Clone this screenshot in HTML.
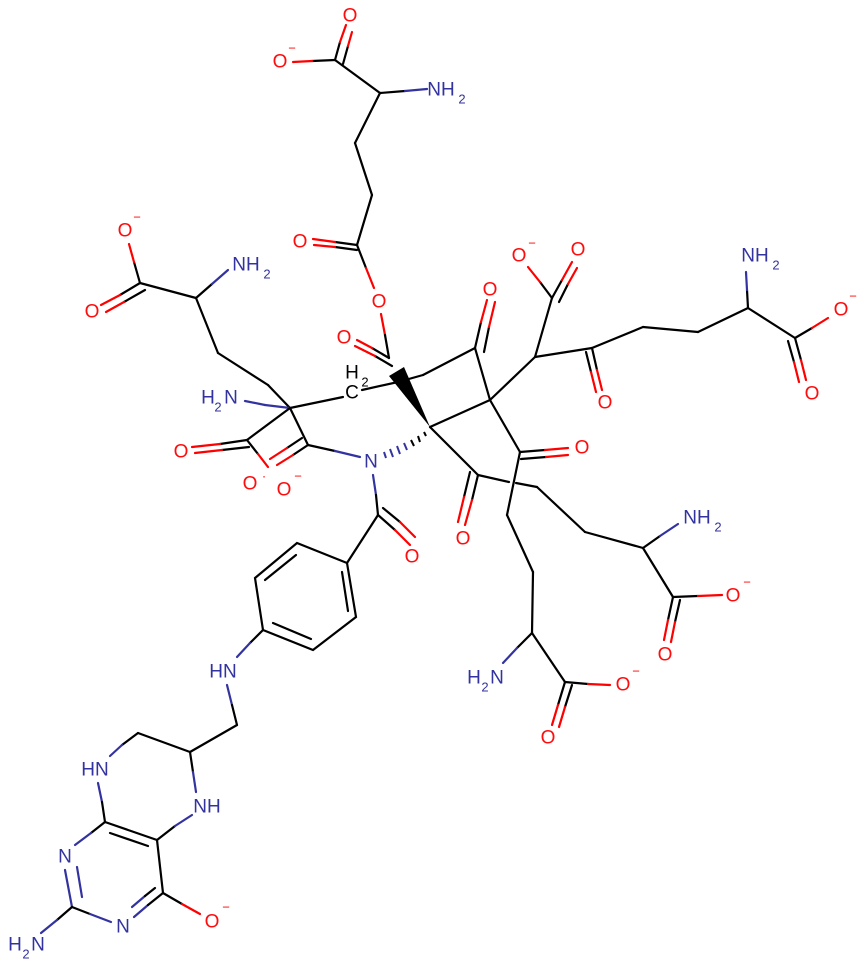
<!DOCTYPE html>
<html><head><meta charset="utf-8"><style>
html,body{margin:0;padding:0;background:#fff;}
svg{display:block;}
text{font-family:"Liberation Sans",sans-serif;font-size:19px;text-anchor:middle;dominant-baseline:central;}
.o{fill:#ff0d0d;} .n{fill:#3333a0;} .c{fill:#000;}
.s{font-size:13px;}
</style></head><body>
<svg width="857" height="959" viewBox="0 0 857 959" xmlns="http://www.w3.org/2000/svg">
<g stroke="#000" stroke-width="2.2" fill="none" stroke-linecap="round">
<line x1="335" y1="60" x2="380" y2="93"/>
<line x1="335" y1="60" x2="312" y2="61"/><line x1="312" y1="61" x2="293" y2="62" stroke="#f00"/>
<line x1="335" y1="60" x2="340" y2="42"/><line x1="340" y1="42" x2="346" y2="25" stroke="#f00"/>
<line x1="343" y1="64" x2="348" y2="46"/><line x1="348" y1="46" x2="352" y2="32" stroke="#f00"/>
<line x1="380" y1="93" x2="405" y2="91"/><line x1="405" y1="91" x2="427" y2="89" stroke="#3333a0"/>
<line x1="380" y1="93" x2="355" y2="143"/><line x1="355" y1="143" x2="372" y2="195"/><line x1="372" y1="195" x2="357" y2="245"/>
<line x1="357" y1="245" x2="335" y2="242"/><line x1="335" y1="242" x2="313" y2="239" stroke="#f00"/>
<line x1="357" y1="250" x2="335" y2="247"/><line x1="335" y1="247" x2="314" y2="245" stroke="#f00"/>
<line x1="357" y1="245" x2="366" y2="268"/><line x1="366" y1="268" x2="374" y2="288" stroke="#f00"/>
<line x1="381" y1="314" x2="385" y2="335" stroke="#f00"/><line x1="385" y1="335" x2="389" y2="358"/>
<line x1="389" y1="358" x2="372" y2="348"/><line x1="372" y1="348" x2="357" y2="340" stroke="#f00"/>
<line x1="392" y1="366" x2="375" y2="356"/><line x1="375" y1="356" x2="355" y2="346" stroke="#f00"/>
<line x1="398" y1="382" x2="423" y2="375"/><line x1="423" y1="375" x2="475" y2="348"/>
<line x1="475" y1="348" x2="490" y2="400"/><line x1="490" y1="400" x2="430" y2="427"/>
<line x1="475" y1="348" x2="481" y2="322"/><line x1="481" y1="322" x2="487" y2="300" stroke="#f00"/>
<line x1="484" y1="352" x2="489" y2="327"/><line x1="489" y1="327" x2="495" y2="302" stroke="#f00"/>
<line x1="398" y1="382" x2="362" y2="390"/>
<line x1="343" y1="397" x2="290" y2="408"/>
<line x1="290" y1="408" x2="268" y2="385"/><line x1="268" y1="385" x2="218" y2="353"/><line x1="218" y1="353" x2="196" y2="298"/>
<line x1="196" y1="298" x2="140" y2="283"/>
<line x1="196" y1="298" x2="212" y2="284"/><line x1="212" y1="284" x2="228" y2="270" stroke="#3333a0"/>
<line x1="140" y1="283" x2="134" y2="262"/><line x1="134" y1="262" x2="129" y2="244" stroke="#f00"/>
<line x1="140" y1="283" x2="120" y2="295"/><line x1="120" y1="295" x2="101" y2="305" stroke="#f00"/>
<line x1="145" y1="290" x2="124" y2="302"/><line x1="124" y1="302" x2="106" y2="312" stroke="#f00"/>
<line x1="290" y1="408" x2="265" y2="405" stroke="#3333a0"/><line x1="265" y1="405" x2="245" y2="401" stroke="#3333a0"/>
<line x1="290" y1="408" x2="247" y2="440"/>
<line x1="247" y1="440" x2="220" y2="444"/><line x1="220" y1="444" x2="192" y2="447" stroke="#f00"/>
<line x1="249" y1="447" x2="222" y2="450"/><line x1="222" y1="450" x2="195" y2="453" stroke="#f00"/>
<line x1="247" y1="440" x2="258" y2="454"/><line x1="258" y1="454" x2="268" y2="467" stroke="#f00"/>
<line x1="290" y1="408" x2="308" y2="445"/>
<line x1="308" y1="445" x2="293" y2="455"/><line x1="293" y1="455" x2="277" y2="465" stroke="#f00"/>
<line x1="302" y1="438" x2="287" y2="448"/><line x1="287" y1="448" x2="270" y2="459" stroke="#f00"/>
<line x1="308" y1="445" x2="335" y2="451"/><line x1="335" y1="451" x2="360" y2="457" stroke="#3333a0"/>
<line x1="373" y1="475" x2="376" y2="495" stroke="#3333a0"/><line x1="376" y1="495" x2="378" y2="515"/>
<line x1="378" y1="515" x2="395" y2="530"/><line x1="395" y1="530" x2="410" y2="545" stroke="#f00"/>
<line x1="383" y1="508" x2="400" y2="522"/><line x1="400" y1="522" x2="415" y2="537" stroke="#f00"/>
<line x1="378" y1="515" x2="347" y2="563"/>
<polygon points="347,563 297,543 255,578 263,630 313,650 356,617" />
<line x1="296" y1="555" x2="265" y2="580"/><line x1="342" y1="572" x2="348" y2="611"/><line x1="273" y1="623" x2="311" y2="639"/>
<line x1="263" y1="630" x2="250" y2="643"/><line x1="250" y1="643" x2="237" y2="657" stroke="#3333a0"/>
<line x1="227" y1="685" x2="232" y2="705" stroke="#3333a0"/><line x1="232" y1="705" x2="237" y2="725"/>
<line x1="237" y1="725" x2="190" y2="752"/><line x1="190" y1="752" x2="138" y2="733"/>
<line x1="138" y1="733" x2="122" y2="745"/><line x1="122" y1="745" x2="110" y2="756" stroke="#3333a0"/>
<line x1="98" y1="783" x2="102" y2="802" stroke="#3333a0"/><line x1="102" y1="802" x2="105" y2="822"/>
<line x1="190" y1="752" x2="193" y2="772"/><line x1="193" y1="772" x2="196" y2="792" stroke="#3333a0"/>
<line x1="105" y1="822" x2="157" y2="840"/><line x1="110" y1="833" x2="148" y2="846"/>
<line x1="157" y1="840" x2="175" y2="826"/><line x1="175" y1="826" x2="192" y2="815" stroke="#3333a0"/>
<line x1="105" y1="822" x2="91" y2="833"/><line x1="91" y1="833" x2="75" y2="845" stroke="#3333a0"/>
<line x1="65" y1="870" x2="72" y2="907" stroke="#3333a0"/><line x1="77" y1="867" x2="82" y2="897" stroke="#3333a0"/>
<line x1="72" y1="907" x2="90" y2="914"/><line x1="90" y1="914" x2="111" y2="922" stroke="#3333a0"/>
<line x1="72" y1="907" x2="57" y2="920"/><line x1="57" y1="920" x2="41" y2="933" stroke="#3333a0"/>
<line x1="134" y1="917" x2="148" y2="905" stroke="#3333a0"/><line x1="148" y1="905" x2="163" y2="893"/>
<line x1="132" y1="907" x2="145" y2="896" stroke="#3333a0"/><line x1="145" y1="896" x2="155" y2="888"/>
<line x1="163" y1="893" x2="157" y2="840"/>
<line x1="163" y1="893" x2="182" y2="904"/><line x1="182" y1="904" x2="200" y2="914" stroke="#f00"/>
<line x1="430" y1="427" x2="478" y2="475"/>
<line x1="478" y1="475" x2="472" y2="500"/><line x1="472" y1="500" x2="465" y2="525" stroke="#f00"/>
<line x1="470" y1="472" x2="464" y2="497"/><line x1="464" y1="497" x2="458" y2="522" stroke="#f00"/>
<line x1="478" y1="475" x2="509" y2="482"/><line x1="516" y1="483" x2="537" y2="487"/>
<line x1="537" y1="487" x2="585" y2="532"/><line x1="585" y1="532" x2="643" y2="548"/>
<line x1="643" y1="548" x2="660" y2="536"/><line x1="660" y1="536" x2="678" y2="524" stroke="#3333a0"/>
<line x1="643" y1="548" x2="673" y2="597"/>
<line x1="673" y1="597" x2="698" y2="596"/><line x1="698" y1="596" x2="722" y2="595" stroke="#f00"/>
<line x1="673" y1="597" x2="668" y2="620"/><line x1="668" y1="620" x2="664" y2="640" stroke="#f00"/>
<line x1="680" y1="600" x2="675" y2="622"/><line x1="675" y1="622" x2="671" y2="642" stroke="#f00"/>
<line x1="490" y1="400" x2="520" y2="452"/>
<line x1="520" y1="452" x2="545" y2="450"/><line x1="545" y1="450" x2="568" y2="448" stroke="#f00"/>
<line x1="521" y1="459" x2="546" y2="457"/><line x1="546" y1="457" x2="568" y2="455" stroke="#f00"/>
<line x1="520" y1="452" x2="507" y2="515"/><line x1="507" y1="515" x2="533" y2="572"/><line x1="533" y1="572" x2="532" y2="633"/>
<line x1="532" y1="633" x2="517" y2="648"/><line x1="517" y1="648" x2="503" y2="663" stroke="#3333a0"/>
<line x1="532" y1="633" x2="565" y2="682"/>
<line x1="565" y1="682" x2="588" y2="684"/><line x1="588" y1="684" x2="610" y2="685" stroke="#f00"/>
<line x1="565" y1="682" x2="558" y2="705"/><line x1="558" y1="705" x2="552" y2="725" stroke="#f00"/>
<line x1="572" y1="685" x2="565" y2="707"/><line x1="565" y1="707" x2="559" y2="727" stroke="#f00"/>
<line x1="490" y1="400" x2="535" y2="357"/>
<line x1="535" y1="357" x2="552" y2="298"/>
<line x1="552" y1="298" x2="540" y2="282"/><line x1="540" y1="282" x2="528" y2="267" stroke="#f00"/>
<line x1="552" y1="298" x2="562" y2="280"/><line x1="562" y1="280" x2="572" y2="262" stroke="#f00"/>
<line x1="559" y1="302" x2="568" y2="284"/><line x1="568" y1="284" x2="577" y2="268" stroke="#f00"/>
<line x1="535" y1="357" x2="592" y2="348"/>
<line x1="592" y1="348" x2="597" y2="370"/><line x1="597" y1="370" x2="602" y2="390" stroke="#f00"/>
<line x1="586" y1="352" x2="591" y2="372"/><line x1="591" y1="372" x2="596" y2="392" stroke="#f00"/>
<line x1="592" y1="348" x2="643" y2="327"/><line x1="643" y1="327" x2="698" y2="332"/><line x1="698" y1="332" x2="748" y2="308"/>
<line x1="748" y1="308" x2="747" y2="290"/><line x1="747" y1="290" x2="746" y2="272" stroke="#3333a0"/>
<line x1="748" y1="308" x2="795" y2="338"/>
<line x1="795" y1="338" x2="812" y2="328"/><line x1="812" y1="328" x2="828" y2="318" stroke="#f00"/>
<line x1="795" y1="338" x2="801" y2="360"/><line x1="801" y1="360" x2="806" y2="380" stroke="#f00"/>
<line x1="788" y1="341" x2="794" y2="362"/><line x1="794" y1="362" x2="799" y2="382" stroke="#f00"/>
</g>
<polygon points="430,427 389,376 404,367" fill="#000"/>
<g stroke-width="2">
<line x1="384" y1="452" x2="386" y2="458" stroke="#3333a0"/>
<line x1="390" y1="449" x2="393" y2="457" stroke="#3333a0"/>
<line x1="397" y1="446" x2="400" y2="454" stroke="#3333a0"/>
<line x1="404" y1="443" x2="407" y2="450" stroke="#3333a0"/>
<line x1="411" y1="440" x2="414" y2="446" stroke="#000"/>
<line x1="418" y1="436" x2="420" y2="442" stroke="#000"/>
<line x1="424" y1="432" x2="426" y2="436" stroke="#000"/>
</g>
<text x="280" y="62" class="o">O</text><text x="292" y="48" class="o s">−</text>
<text x="350" y="16" class="o">O</text>
<text x="441" y="90" class="n">NH</text><text x="462" y="99" class="n s">2</text>
<text x="300" y="242" class="o">O</text>
<text x="379" y="302" class="o">O</text>
<text x="344" y="338" class="o">O</text>
<text x="490" y="290" class="o">O</text>
<text x="352" y="393" class="c">C</text><text x="352" y="373" class="c">H</text><text x="365" y="382" class="c s">2</text>
<text x="125" y="231" class="o">O</text><text x="137" y="217" class="o s">−</text>
<text x="92" y="312" class="o">O</text>
<text x="246" y="265" class="n">NH</text><text x="267" y="274" class="n s">2</text>
<text x="208" y="398" class="n">H</text><text x="218" y="407" class="n s">2</text><text x="231" y="398" class="n">N</text>
<text x="181" y="452" class="o">O</text>
<text x="250" y="484" class="o">O</text><text x="264" y="476" class="o s">·</text>
<text x="284" y="490" class="o">O</text><text x="298" y="476" class="o s">−</text>
<text x="371" y="462" class="n">N</text>
<text x="412" y="557" class="o">O</text>
<text x="223" y="672" class="n">HN</text>
<text x="95" y="770" class="n">HN</text>
<text x="207" y="807" class="n">NH</text>
<text x="65" y="857" class="n">N</text>
<text x="123" y="927" class="n">N</text>
<text x="212" y="922" class="o">O</text><text x="226" y="907" class="o s">−</text>
<text x="15" y="945" class="n">H</text><text x="26" y="954" class="n s">2</text><text x="38" y="945" class="n">N</text>
<text x="519" y="256" class="o">O</text><text x="532" y="243" class="o s">−</text>
<text x="578" y="250" class="o">O</text>
<text x="605" y="403" class="o">O</text>
<text x="755" y="256" class="n">NH</text><text x="776" y="265" class="n s">2</text>
<text x="841" y="310" class="o">O</text><text x="853" y="296" class="o s">−</text>
<text x="812" y="394" class="o">O</text>
<text x="582" y="448" class="o">O</text>
<text x="463" y="539" class="o">O</text>
<text x="697" y="518" class="n">NH</text><text x="718" y="527" class="n s">2</text>
<text x="733" y="596" class="o">O</text><text x="747" y="582" class="o s">−</text>
<text x="665" y="655" class="o">O</text>
<text x="474" y="678" class="n">H</text><text x="485" y="687" class="n s">2</text><text x="497" y="678" class="n">N</text>
<text x="623" y="685" class="o">O</text><text x="636" y="671" class="o s">−</text>
<text x="548" y="738" class="o">O</text>
</svg>
</body></html>
